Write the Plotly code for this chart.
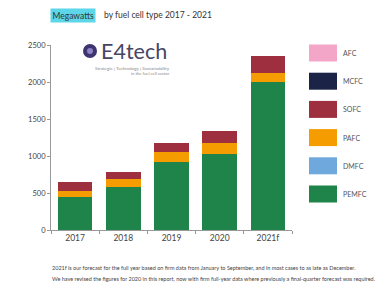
import plotly.graph_objects as go

years = ["2017", "2018", "2019", "2020", "2021f"]
pemfc = [450, 585, 915, 1030, 2000]
dmfc = [0, 0, 0, 0, 0]
pafc = [82, 103, 142, 150, 128]
sofc = [115, 100, 118, 160, 225]
mcfc = [0, 0, 0, 0, 0]
afc = [0, 0, 0, 0, 0]

series = [("PEMFC", pemfc, "#1E8449"), ("DMFC", dmfc, "#6FA8DC"),
          ("PAFC", pafc, "#F59C00"), ("SOFC", sofc, "#9E2F3F"),
          ("MCFC", mcfc, "#1B2447"), ("AFC", afc, "#F4A6C8")]
legend_order = ["AFC", "MCFC", "SOFC", "PAFC", "DMFC", "PEMFC"]
y_ticks = [0, 500, 1000, 1500, 2000, 2500]

FONT = "Lato"
fig = go.Figure()
for name, vals, col in series:
    fig.add_trace(go.Bar(x=years, y=vals, name=name, marker=dict(color=col, line=dict(width=0)),
                         showlegend=False, hoverinfo="skip"))

W, H = 385, 289
L, R, T, B = 51, 292, 45, 230
fig.update_layout(
    width=W, height=H, barmode="stack", bargap=0.28,
    margin=dict(l=L, r=W - R, t=T, b=H - B),
    paper_bgcolor="white", plot_bgcolor="white",
    font=dict(family=FONT, size=8, color="#444"),
)
fig.update_yaxes(range=[0, 2500], tickvals=y_ticks, showgrid=False, showline=True,
                 linecolor="#999", linewidth=1, ticks="outside", ticklen=3, tickcolor="#999",
                 tickfont=dict(size=7.5, color="#444"), zeroline=False)
fig.update_xaxes(showgrid=False, showline=True, linecolor="#999", linewidth=1,
                 ticks="outside", ticklen=3, tickcolor="#999", tickson="boundaries",
                 tickfont=dict(size=8.5, color="#444"), range=[-0.5, 4.5])

def px(x):
    return (x - L) / (R - L)

def py(y):
    return (B - y) / (B - T)

colmap = {n: c for n, _, c in series}
shapes = []
annos = []
for i, name in enumerate(legend_order):
    cy = 53 + i * 28.2
    shapes.append(dict(type="rect", xref="paper", yref="paper", x0=px(309), x1=px(337),
                       y0=py(cy + 8.5), y1=py(cy - 8.5), fillcolor=colmap[name], line=dict(width=0)))
    annos.append(dict(xref="paper", yref="paper", x=px(341), y=py(cy), text=name, showarrow=False,
                      xanchor="left", yanchor="middle", font=dict(size=7, color="#555", family=FONT)))

# title
annos.append(dict(xref="paper", yref="paper", x=px(50), y=py(15), text="Megawatts", showarrow=False,
                  xanchor="left", yanchor="middle", bgcolor="#5CD6E8", borderpad=1.5,
                  font=dict(size=8.5, color="#333", family=FONT)))
annos.append(dict(xref="paper", yref="paper", x=px(102), y=py(15), text="by fuel cell type 2017 - 2021",
                  showarrow=False, xanchor="left", yanchor="middle",
                  font=dict(size=8.5, color="#333", family=FONT)))

# logo
shapes.append(dict(type="circle", xref="paper", yref="paper", x0=px(83), x1=px(97), y0=py(58), y1=py(44),
                   fillcolor="#3E3470", line=dict(width=0)))
shapes.append(dict(type="circle", xref="paper", yref="paper", x0=px(87), x1=px(93), y0=py(54), y1=py(48),
                   fillcolor="#8C84C4", line=dict(width=0)))
annos.append(dict(xref="paper", yref="paper", x=px(99), y=py(51), text="E4tech", showarrow=False,
                  xanchor="left", yanchor="middle", font=dict(size=21.5, color="#464664", family=FONT)))
annos.append(dict(xref="paper", yref="paper", x=px(172), y=py(68), text="Strategic | Technology | Sustainability",
                  showarrow=False, xanchor="right", yanchor="middle", font=dict(size=4.6, color="#888", family=FONT)))
annos.append(dict(xref="paper", yref="paper", x=px(172), y=py(73), text="in the fuel cell sector",
                  showarrow=False, xanchor="right", yanchor="middle", font=dict(size=4.2, color="#888", family=FONT)))

# footer
annos.append(dict(xref="paper", yref="paper", x=px(50), y=py(268),
                  text="2021f is our forecast for the full year based on firm data from January to September, and in most cases to as late as December.",
                  showarrow=False, xanchor="left", yanchor="middle", font=dict(size=5.5, color="#444", family=FONT)))
annos.append(dict(xref="paper", yref="paper", x=px(50), y=py(279),
                  text="We have revised the figures for 2020 in this report, now with firm full-year data where previously a final-quarter forecast was required.",
                  showarrow=False, xanchor="left", yanchor="middle", font=dict(size=5.5, color="#444", family=FONT)))

fig.update_layout(shapes=shapes, annotations=annos)
fig.write_html("out.html", config={"displayModeBar": False},
               post_script="document.body.style.margin='0';document.body.style.overflow='hidden';")
